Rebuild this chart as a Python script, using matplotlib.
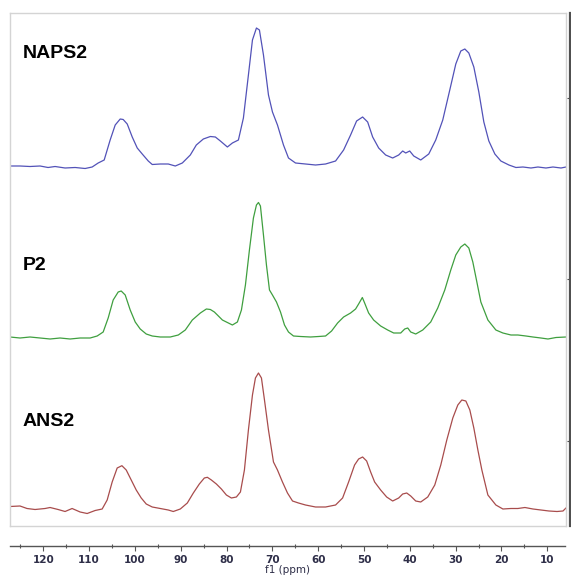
import matplotlib
matplotlib.use("Agg")
import matplotlib.pyplot as plt
import numpy as np

# ---- data (ppm, intensity above baseline, arbitrary units) ----
naps2_ppm = [127.27, 125.09, 122.91, 120.72, 118.98, 117.45, 115.27, 113.08, 110.90, 109.37,
             108.06, 106.75, 105.45, 104.35, 103.26, 102.61, 101.73, 100.64, 99.55, 98.46,
             97.15, 96.28, 94.53, 92.79, 91.26, 89.73, 87.99, 86.68, 85.15, 83.62,
             82.53, 81.44, 79.91, 78.82, 77.51, 76.42, 75.33, 74.45, 73.58, 72.93,
             72.05, 70.96, 70.09, 69.00, 67.69, 66.60, 65.07, 62.89, 60.70, 58.52,
             56.34, 54.59, 53.07, 51.76, 50.45, 49.35, 48.26, 46.95, 45.43, 43.90,
             42.59, 41.72, 41.06, 40.19, 39.31, 37.79, 36.04, 34.52, 32.99, 31.46,
             30.15, 29.06, 28.18, 27.31, 26.22, 25.13, 24.04, 22.95, 21.64, 20.33,
             18.58, 17.05, 15.52, 13.78, 12.25, 10.51, 8.98, 7.23, 6.14]
naps2_int = [0, 0, -0.5, 0, -1.5, -0.5, -2, -1.5, -2.5, -1,
             3, 6, 26, 41, 47, 46.5, 42, 29, 18, 12,
             5, 1.5, 2, 2, 0, 3, 11, 21, 27, 29.5,
             29, 25, 19, 23, 26, 48, 91, 126, 138, 136,
             111, 71, 54, 41, 21, 8, 3, 2, 1, 2,
             5, 16, 31, 45, 49, 44, 29, 18, 11, 8,
             11, 15, 13, 15, 10, 6, 12, 26, 46, 76,
             102, 115, 117, 113, 99, 74, 44, 25, 12, 5,
             1, -1.5, -1, -2, -1, -2, -1, -2, -1]

p2_ppm = [127.27, 125.09, 122.91, 120.72, 118.54, 116.36, 114.18, 111.99, 109.81, 108.28,
          106.97, 105.88, 104.79, 103.70, 103.04, 102.17, 101.08, 99.99, 98.90, 97.59,
          96.28, 94.53, 92.35, 90.60, 89.08, 87.55, 85.80, 84.49, 83.62, 82.75,
          81.87, 81.00, 80.13, 78.82, 77.73, 76.85, 75.98, 75.11, 74.24, 73.58,
          73.14, 72.71, 72.05, 71.40, 70.74, 70.09, 69.22, 68.34, 67.47, 66.60,
          65.51, 63.98, 61.80, 60.05, 58.52, 57.21, 55.90, 54.59, 53.07, 51.98,
          51.32, 50.51, 50.01, 49.14, 48.05, 46.52, 44.99, 43.68, 42.15, 41.28,
          40.62, 39.97, 38.88, 37.35, 35.61, 34.08, 32.55, 31.24, 30.15, 29.06,
          28.18, 27.31, 26.44, 25.56, 24.69, 23.16, 21.42, 19.89, 18.14, 16.62,
          14.87, 13.34, 11.60, 10.07, 8.32, 6.14]
p2_int = [0, -1, 0, -1, -2, -1, -2, -1, -1, 1,
          5, 19, 37, 45, 46, 42, 27, 15, 8, 3,
          1, 0, 0, 2, 7, 17, 24, 28, 27.5, 25,
          21, 17, 15, 12, 15, 27, 52, 87, 119, 132,
          134.5, 131, 102, 72, 47, 42, 35, 25, 12, 5,
          1, 0.5, 0, 0.5, 1, 6, 14, 20, 24, 28,
          33, 39.5, 34, 24, 17, 11, 7, 4, 4, 8,
          9, 5, 3, 7, 15, 29, 47, 67, 82, 90,
          93, 89, 75, 55, 35, 17, 7, 4, 2, 2,
          1, 0, -1, -2, -0.5, 0]

ans2_ppm = [127.27, 125.09, 123.56, 121.81, 119.63, 118.54, 116.79, 115.27, 113.74, 111.99,
            110.46, 108.72, 107.19, 106.10, 105.01, 103.92, 102.89, 101.95, 100.86, 99.77,
            98.68, 97.59, 96.28, 94.53, 92.79, 91.70, 90.17, 88.64, 87.33, 86.02,
            84.93, 84.27, 83.40, 82.31, 81.22, 80.13, 79.04, 77.95, 77.07, 76.20,
            75.33, 74.45, 73.80, 73.14, 72.49, 71.83, 70.96, 69.87, 69.00, 67.91,
            66.82, 65.72, 64.42, 62.89, 60.70, 58.52, 56.34, 54.81, 53.50, 52.20,
            51.32, 50.45, 49.57, 48.70, 47.83, 46.52, 45.21, 43.90, 42.59, 41.72,
            40.84, 39.97, 38.88, 37.79, 36.26, 34.73, 33.42, 32.11, 30.80, 29.71,
            28.84, 27.96, 27.09, 26.22, 25.34, 24.47, 23.16, 21.42, 19.89, 18.14,
            16.62, 15.09, 13.34, 11.60, 9.85, 8.10, 6.80, 6.14]
ans2_int = [3.5, 4, 1.5, 0.5, 1.5, 2.5, 0.5, -1.5, 1.5, -2,
            -3.5, -0.5, 1, 10, 28, 42, 44.3, 40, 30, 20,
            12, 6, 3, 1.5, 0, -1.5, 1, 7, 17, 26,
            32, 32.7, 30, 26, 21, 15, 12, 13, 18, 40,
            80, 115, 132, 137, 132, 110, 80, 48, 40, 28,
            17, 9, 7, 5, 3, 3, 5, 12, 28, 45,
            51, 53, 49, 38, 28, 20, 13, 9, 12, 16,
            17, 14, 9, 8, 13, 25, 45, 70, 92, 105,
            110, 109, 100, 82, 60, 40, 15, 5, 1, 1.5,
            1.5, 2.5, 1, 0, -1, -1.5, -1, 2]

series_names = ["NAPS2", "P2", "ANS2"]
tick_values = [120, 110, 100, 90, 80, 70, 60, 50, 40, 30, 20, 10]
minor_values = [125, 115, 105, 95, 85, 75, 65, 55, 45, 35, 25, 15]

# ---- styling / layout ----
W, H = 571, 576
fig = plt.figure(figsize=(W / 100, H / 100), dpi=100)
fig.patch.set_facecolor("white")

def fx(px):
    return px / W

def fy(py):
    return 1 - py / H

x_left, x_right = 127.27, 6.14
frame_l, frame_r, frame_t, frame_b = 10, 566, 13, 526

ax = fig.add_axes([fx(frame_l), fy(frame_b), fx(frame_r) - fx(frame_l), fy(frame_t) - fy(frame_b)])
ax.set_xlim(x_left, x_right)
ax.set_ylim(0, frame_b - frame_t)
for sp in ax.spines.values():
    sp.set_color("#d4d4d4")
    sp.set_linewidth(1.0)
ax.set_xticks([])
ax.set_yticks([])

offsets = [526 - 166, 526 - 337, 526 - 510]
colors = ["#5252b8", "#3f9f3f", "#a84c4c"]
data = [(naps2_ppm, naps2_int), (p2_ppm, p2_int), (ans2_ppm, ans2_int)]
label_y = [53, 265, 421.5]
for (ppm, inten), off, col, name, ly in zip(data, offsets, colors, series_names, label_y):
    ax.plot(ppm, np.asarray(inten) + off, color=col, lw=0.9, solid_joinstyle="round")
    ax.text((23 - frame_l) / (frame_r - frame_l), (frame_b - ly) / (frame_b - frame_t), name,
            transform=ax.transAxes, ha="left", va="center",
            fontsize=14, fontweight="bold", family="Liberation Sans", color="black")

# bottom ppm scale
axis_y = 545.7
ax2 = fig.add_axes([fx(frame_l), fy(axis_y), fx(565) - fx(frame_l), 0.0001])
ax2.set_xlim(x_left, x_right)
ax2.set_ylim(0, 1)
for k in ["top", "left", "right"]:
    ax2.spines[k].set_visible(False)
ax2.spines["bottom"].set_color("#555555")
ax2.spines["bottom"].set_linewidth(1.0)
ax2.set_yticks([])
ax2.set_xticks(tick_values)
ax2.set_xticks(minor_values, minor=True)
ax2.set_xticklabels([str(v) for v in tick_values], fontsize=7.5, fontweight="bold",
                    family="DejaVu Sans", color="#2e2e48")
ax2.tick_params(axis="x", which="major", direction="out", length=3.5, width=0.8,
                color="#555555", pad=3.5)
ax2.tick_params(axis="x", which="minor", direction="inout", length=2.5, width=0.8,
                color="#555555")
ax2.set_xlabel("f1 (ppm)", fontsize=7.5, color="#2e2e48", family="DejaVu Sans", labelpad=-0.5)
ax2.patch.set_alpha(0)

# right intensity bar
ax3 = fig.add_axes([fx(569.5), fy(frame_b), 0.0001, fy(frame_t) - fy(frame_b)])
ax3.set_ylim(0, frame_b - frame_t)
for k in ["top", "bottom", "right"]:
    ax3.spines[k].set_visible(False)
ax3.spines["left"].set_color("#505050")
ax3.spines["left"].set_linewidth(1.6)
ax3.set_xticks([])
ax3.set_yticks([frame_b - 98, frame_b - 279, frame_b - 441])
ax3.set_yticklabels([])
ax3.tick_params(axis="y", direction="out", length=2.5, width=0.8, color="#505050")

fig.savefig("out.png", dpi=100, facecolor="white")
